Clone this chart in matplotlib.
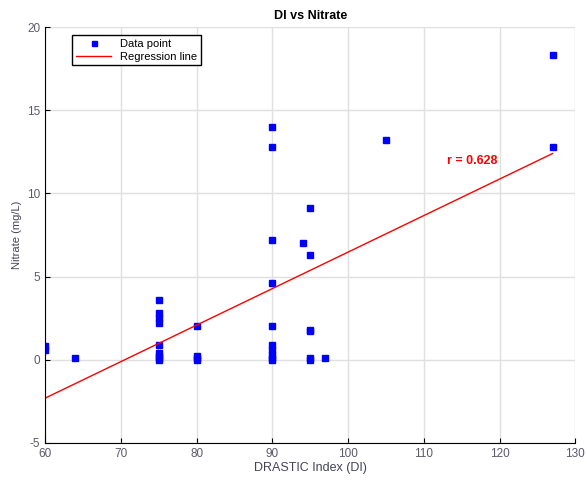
import numpy as np
import matplotlib.pyplot as plt

plt.rcParams['font.family'] = ['Liberation Sans', 'DejaVu Sans']
plt.rcParams['axes.unicode_minus'] = False

# DRASTIC index and nitrate readings (mg/L)
di = [60, 60, 64,
      75, 75, 75, 75, 75, 75, 75, 75, 75,
      80, 80, 80, 80,
      90, 90, 90, 90, 90, 90, 90, 90, 90, 90,
      94,
      95, 95, 95, 95, 95, 95,
      97, 105, 127, 127]
nitrate = [0.6, 0.8, 0.1,
           3.6, 2.8, 2.5, 2.2, 0.9, 0.4, 0.2, 0.0, 0.1,
           2.0, 0.2, 0.0, 0.1,
           14.0, 12.8, 7.2, 4.6, 2.0, 0.9, 0.6, 0.3, 0.1, 0.0,
           7.0,
           9.1, 6.3, 1.8, 1.7, 0.1, 0.0,
           0.1, 13.2, 18.3, 12.8]
r_label = 'r = 0.628'

x = np.array(di, dtype=float)
y = np.array(nitrate, dtype=float)
slope, intercept = np.polyfit(x, y, 1)
xl = np.array([x.min(), x.max()])

fig = plt.figure(figsize=(5.87, 4.86), dpi=100)
ax = fig.add_axes([0.077, 0.089, 0.903, 0.855])

ax.plot(x, y, 's', color='blue', markersize=4.5, label='Data point')
ax.plot(xl, slope * xl + intercept, color='red', linewidth=1, label='Regression line')
ax.text(113, 11.8, r_label, color='red', fontweight='bold', fontsize=9)

ax.set_xlim(60, 130)
ax.set_ylim(-5, 20)
ax.set_xticks(range(60, 131, 10))
ax.set_yticks(range(-5, 21, 5))
ax.grid(True, color='#e0e0e0', linewidth=1)
ax.set_axisbelow(True)
for s in ['top', 'right']:
    ax.spines[s].set_visible(False)
ax.tick_params(direction='in', labelsize=8.5, labelcolor='#5a5a6a')
ax.set_title('DI vs Nitrate', fontsize=9, fontweight='bold')
ax.set_xlabel('DRASTIC Index (DI)', fontsize=9, color='#444455', labelpad=2)
ax.set_ylabel('Nitrate (mg/L)', fontsize=8, color='#444455')
leg = ax.legend(loc='upper left', bbox_to_anchor=(0.04, 0.995), fontsize=8,
                fancybox=False, edgecolor='black', framealpha=1, borderpad=0.35,
                handlelength=3.2, markerscale=0.8, labelspacing=0.25)
leg.get_frame().set_linewidth(1)

plt.savefig('out.png', dpi=100)
